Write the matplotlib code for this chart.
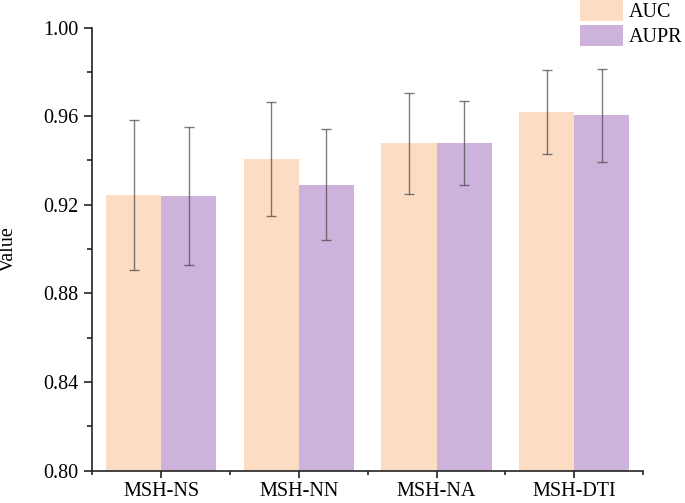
import matplotlib
matplotlib.use("Agg")
import matplotlib.pyplot as plt
import numpy as np
from matplotlib.ticker import MultipleLocator, FixedLocator

categories = ["MSH-NS", "MSH-NN", "MSH-NA", "MSH-DTI"]
auc = [0.9243, 0.9405, 0.9478, 0.9618]
auc_err = [0.034, 0.0258, 0.0228, 0.019]
aupr = [0.9240, 0.9290, 0.9480, 0.9603]
aupr_err = [0.031, 0.025, 0.019, 0.0209]
yticks = [0.80, 0.84, 0.88, 0.92, 0.96, 1.00]

plt.rcParams['font.family'] = ['Liberation Serif', 'DejaVu Serif']
fig = plt.figure(figsize=(6.85, 5.03), dpi=100)
ax = fig.add_axes([0.135, 0.0646, 0.8036, 0.8807])

x = np.arange(len(categories))
w = 0.4
c_auc = '#fcddc4'
c_aupr = '#cdb3db'
ekw = dict(ecolor='#444444', elinewidth=1.0, capsize=3.5, capthick=1.0)
ax.bar(x - w/2, auc, w, color=c_auc, label='AUC', linewidth=0)
ax.bar(x + w/2, aupr, w, color=c_aupr, label='AUPR', linewidth=0)
ax.errorbar(x - w/2, auc, yerr=auc_err, fmt='none', alpha=0.7, **ekw)
ax.errorbar(x + w/2, aupr, yerr=aupr_err, fmt='none', alpha=0.7, **ekw)

ax.set_xlim(-0.5, 3.5)
ax.set_ylim(0.80, 1.00)
ax.set_yticks(yticks)
ax.set_yticklabels([f"{v:.2f}" for v in yticks])
ax.yaxis.set_minor_locator(MultipleLocator(0.02))
ax.set_xticks(x)
ax.set_xticklabels(categories)
ax.xaxis.set_minor_locator(FixedLocator([-0.5, 0.5, 1.5, 2.5, 3.5]))
ax.tick_params(axis='y', which='major', direction='out', length=6, width=1.2, labelsize=14.5, color='#222222', pad=4)
ax.tick_params(axis='y', which='minor', direction='out', length=3.5, width=1.2, color='#222222')
ax.tick_params(axis='x', which='major', direction='out', length=5, width=1.2, labelsize=14.5, color='#222222', pad=3)
ax.tick_params(axis='x', which='minor', direction='out', length=3, width=1.2, color='#222222')
for s in ['top', 'right']:
    ax.spines[s].set_visible(False)
for s in ['left', 'bottom']:
    ax.spines[s].set_linewidth(1.2)
    ax.spines[s].set_color('#222222')
ax.set_ylabel('Value', fontsize=14.5)
ax.yaxis.set_label_coords(-0.136, 0.5)

fig.legend(loc='upper left', bbox_to_anchor=(580/685, 1.0), frameon=False,
           fontsize=14.5, handlelength=2.15, handleheight=1.2, handletextpad=0.25,
           labelspacing=0.15, borderpad=0, borderaxespad=0)

fig.savefig('out.png', dpi=100)
